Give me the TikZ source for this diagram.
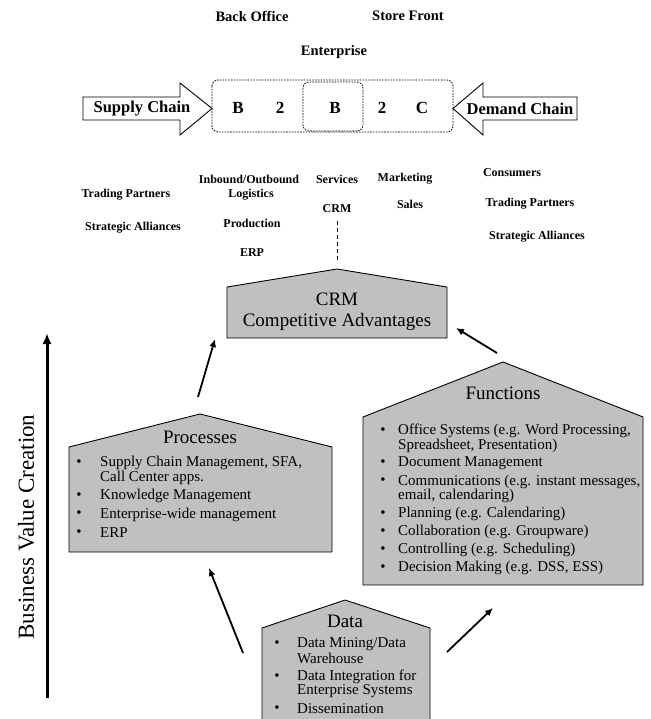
\documentclass[tikz,border=0pt]{standalone}
\usepackage{fontspec}
\setmainfont{Liberation Serif}
\usetikzlibrary{arrows.meta}
\definecolor{boxgray}{RGB}{192,192,192}
\begin{document}
\begin{tikzpicture}[x=1pt,y=-1pt,
  toplbl/.style={font=\fontsize{14.5}{16}\selectfont\bfseries, inner sep=0pt},
  midlbl/.style={font=\fontsize{12}{14}\selectfont\bfseries, inner sep=0pt},
  chainlbl/.style={font=\fontsize{16.5}{18}\selectfont\bfseries, inner sep=0pt},
  letter/.style={font=\fontsize{17}{18}\selectfont\bfseries, inner sep=0pt},
  house/.style={draw=black, fill=boxgray, line width=0.9pt},
  chainarrow/.style={draw=black, fill=white, line width=0.9pt},
  dotbox/.style={draw=black, line width=0.8pt, dash pattern=on 1.6pt off 1.2pt, rounded corners=6pt},
  title/.style={font=\fontsize{19}{21}\selectfont, inner sep=0pt},
  item/.style={font=\fontsize{15}{15}\selectfont, inner sep=0pt, anchor=west},
  bul/.style={font=\fontsize{15}{15}\selectfont, inner sep=0pt},
  flow/.style={line width=1.8pt, -{Latex[length=8pt,width=7pt]}},
]
\useasboundingbox (0,0) rectangle (650,719);
\clip (0,0) rectangle (650,719);

% top labels
\node[toplbl] (bo) at (252,16) {Back Office};
\node[toplbl] (sf) at (408,16) {Store Front};
\node[toplbl] (ent) at (334,52) {Enterprise};

% chain arrows
\draw[chainarrow] (83,97) -- (180,97) -- (180,83) -- (212,108.5) -- (180,135) -- (180,120) -- (83,120) -- cycle;
\draw[chainarrow] (577,97) -- (483,97) -- (483,83) -- (453,108.5) -- (483,135) -- (483,120) -- (577,120) -- cycle;
\node[chainlbl] (sc) at (142,108.5) {Supply Chain};
\node[chainlbl] (dc) at (520,108.5) {Demand Chain};

% dashed boxes
\draw[dotbox] (212,80) rectangle (453,132);
\draw[dotbox] (303,82) rectangle (363,131);
\node[letter] (l1) at (238,108) {B};
\node[letter] (l2) at (280,108) {2};
\node[letter] (l3) at (335,108) {B};
\node[letter] (l4) at (382,108) {2};
\node[letter] (l5) at (422,108) {C};

% middle labels
\node[midlbl] (tp1) at (126,195) {Trading Partners};
\node[midlbl] (sa1) at (133,228) {Strategic Alliances};
\node[midlbl] (io) at (249,179) {Inbound/Outbound};
\node[midlbl] (lo) at (251,195) {Logistics};
\node[midlbl] (pr) at (252,223) {Production};
\node[midlbl] (erp) at (252,253) {ERP};
\node[midlbl] (sv) at (337,179) {Services};
\node[midlbl] (crm) at (337,209) {CRM};
\node[midlbl] (mk) at (405,179) {Marketing};
\node[midlbl] (sl) at (410,204) {Sales};
\node[midlbl] (cs) at (512,173) {Consumers};
\node[midlbl] (tp2) at (530,204) {Trading Partners};
\node[midlbl] (sa2) at (537,237) {Strategic Alliances};

% CRM box
\draw[house] (227,287) -- (337,269) -- (447,287) -- (447,338) -- (227,338) -- cycle;
\node[title] (c1) at (337,299) {CRM};
\node[title] (c2) at (337,322) {Competitive Advantages};
\coordinate (crmtop) at (337,260);
\draw[line width=0.9pt, dash pattern=on 4pt off 3pt] (crm.south) ++(0,8) -- (crmtop);

% Processes box
\draw[house] (69,447) -- (200,414) -- (332,447) -- (332,552) -- (69,552) -- cycle;
\node[title] (pt) at (200,437) {Processes};
\node[bul] (pb1) at (79,463) {\textbullet};
\node[item] (pi1) at (100,463) {Supply Chain Management, SFA,};
\node[item] (pi1b) at (100,477.5) {Call Center apps.};
\node[bul] (pb2) at (79,496) {\textbullet};
\node[item] (pi2) at (100,496) {Knowledge Management};
\node[bul] (pb3) at (79,514.5) {\textbullet};
\node[item] (pi3) at (100,514.5) {Enterprise-wide management};
\node[bul] (pb4) at (79,533) {\textbullet};
\node[item] (pi4) at (100,533) {ERP};

% Functions box
\draw[house] (363,417) -- (503,362) -- (643,417) -- (643,585) -- (363,585) -- cycle;
\node[title] (ft) at (503,393) {Functions};
\node[bul] (fb1) at (383,431) {\textbullet};
\node[item] (fi1) at (398,431) {Office Systems (e.g. Word Processing,};
\node[item] (fi1b) at (398,445.5) {Spreadsheet, Presentation)};
\node[bul] (fb2) at (383,463.5) {\textbullet};
\node[item] (fi2) at (398,463.5) {Document Management};
\node[bul] (fb3) at (383,481.5) {\textbullet};
\node[item] (fi3) at (398,481.5) {Communications (e.g. instant messages,};
\node[item] (fi3b) at (398,496) {email, calendaring)};
\node[bul] (fb4) at (383,514) {\textbullet};
\node[item] (fi4) at (398,514) {Planning (e.g. Calendaring)};
\node[bul] (fb5) at (383,532) {\textbullet};
\node[item] (fi5) at (398,532) {Collaboration (e.g. Groupware)};
\node[bul] (fb6) at (383,550) {\textbullet};
\node[item] (fi6) at (398,550) {Controlling (e.g. Scheduling)};
\node[bul] (fb7) at (383,568) {\textbullet};
\node[item] (fi7) at (398,568) {Decision Making (e.g. DSS, ESS)};

% Data box
\draw[house] (262,628) -- (345,600) -- (430,628) -- (430,730) -- (262,730) -- cycle;
\node[title] (dt) at (345,621) {Data};
\node[bul] (db1) at (277,644) {\textbullet};
\node[item] (di1) at (297,644) {Data Mining/Data};
\node[item] (di1b) at (297,658) {Warehouse};
\node[bul] (db2) at (277,677) {\textbullet};
\node[item] (di2) at (297,677) {Data Integration for};
\node[item] (di2b) at (297,691) {Enterprise Systems};
\node[bul] (db3) at (277,709) {\textbullet};
\node[item] (di3) at (297,709) {Dissemination};

% flow arrows
\coordinate (a1s) at (198,397); \coordinate (a1e) at (215,339);
\coordinate (a2s) at (497,353); \coordinate (a2e) at (456,328);
\coordinate (a3s) at (243,653); \coordinate (a3e) at (209,568);
\coordinate (a4s) at (447,652); \coordinate (a4e) at (493,608);
\draw[flow] (a1s) -- (a1e);
\draw[flow] (a2s) -- (a2e);
\draw[flow] (a3s) -- (a3e);
\draw[flow] (a4s) -- (a4e);

% business value creation
\coordinate (bvs) at (47,698); \coordinate (bve) at (47,333);
\draw[line width=3pt, -{Latex[length=11pt,width=9pt]}] (bvs) -- (bve);
\node[font=\fontsize{23}{25}\selectfont, inner sep=0pt, rotate=90] (bv) at (26,527) {Business Value Creation};
\end{tikzpicture}
\end{document}
